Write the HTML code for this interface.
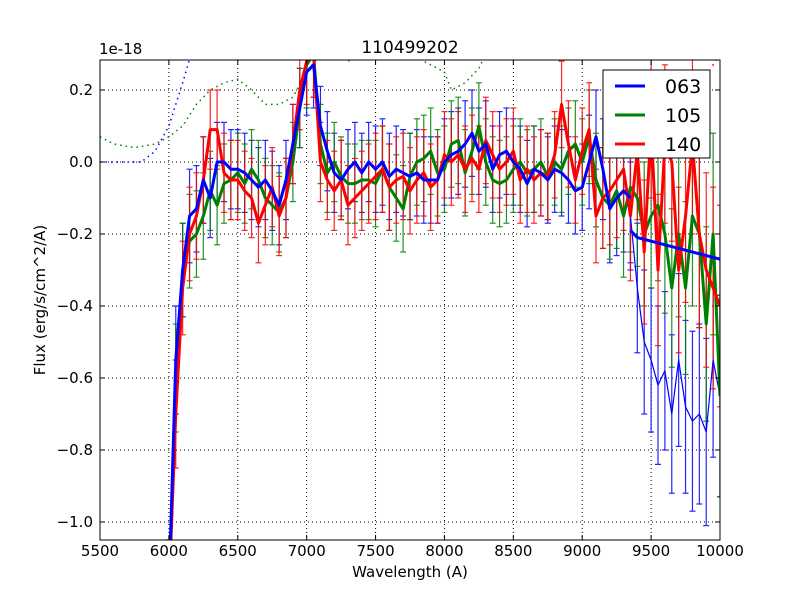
<!DOCTYPE html>
<html><head><meta charset="utf-8"><style>
html,body{margin:0;padding:0;background:#fff;overflow:hidden;width:800px;height:600px}
svg{display:block;overflow:hidden;position:absolute;left:0;top:0}
svg text{font-family:"DejaVu Sans","Liberation Sans",sans-serif}
</style></head><body>
<svg id="c" width="800" height="600" viewBox="0 0 800 600" xmlns="http://www.w3.org/2000/svg">
<rect width="800" height="600" fill="#fff"/>
<defs><clipPath id="clip"><rect x="100" y="60" width="620" height="480"/></clipPath></defs>
<g id="grid"></g>
<g id="plot" clip-path="url(#clip)"></g>
<rect x="100" y="60" width="620" height="480" fill="none" stroke="#000" stroke-width="1"/>
<g id="ticks"></g>
<text x="410" y="53" font-size="17" text-anchor="middle">110499202</text>
<text x="99" y="54" font-size="15">1e-18</text>
<text x="410" y="577" font-size="15" text-anchor="middle">Wavelength (A)</text>
<text x="45" y="300" font-size="15" text-anchor="middle" transform="rotate(-90 45 300)">Flux (erg/s/cm^2/A)</text>
<g>
<rect x="603" y="70" width="107" height="88" fill="#fff" stroke="#000"/>
<g><line x1="615" y1="86" x2="645" y2="86" stroke="#0000ff" stroke-width="3"/><text x="665" y="93" font-size="19">063</text></g>
<g><line x1="615" y1="115" x2="645" y2="115" stroke="#008000" stroke-width="3"/><text x="665" y="122" font-size="19">105</text></g>
<g><line x1="615" y1="144" x2="645" y2="144" stroke="#ff0000" stroke-width="3"/><text x="665" y="151" font-size="19">140</text></g>
</g>
</svg>
<script>
const wl=[6000,6050,6100,6150,6200,6250,6300,6350,6400,6450,6500,6550,6600,6650,6700,6750,6800,6850,6900,6950,7000,7050,7100,7150,7200,7250,7300,7350,7400,7450,7500,7550,7600,7650,7700,7750,7800,7850,7900,7950,8000,8050,8100,8150,8200,8250,8300,8350,8400,8450,8500,8550,8600,8650,8700,8750,8800,8850,8900,8950,9000,9050,9100,9150,9200,9250,9300,9350];
const s063=[-1.2,-0.55,-0.3,-0.15,-0.13,-0.05,-0.1,0.0,0.0,-0.02,-0.02,-0.03,-0.05,-0.07,-0.05,-0.08,-0.12,-0.05,0.05,0.15,0.25,0.27,0.1,0.03,-0.03,-0.05,-0.02,0.0,-0.03,0.0,-0.02,0.0,-0.04,-0.02,-0.03,-0.04,-0.03,-0.05,-0.05,-0.05,0.0,0.02,0.03,0.05,0.08,0.03,0.05,-0.02,0.02,0.03,0.0,-0.02,-0.06,-0.02,-0.03,-0.05,-0.02,-0.03,-0.05,-0.08,-0.07,0.0,0.07,-0.02,-0.13,-0.1,-0.08,-0.1];
const wlTail063=[9350,9400,9450,9500,9550,9600,9650,9700,9750,9800,9850,9900,9950,10000];
const tail063=[-0.15,-0.35,-0.5,-0.55,-0.62,-0.58,-0.7,-0.55,-0.68,-0.72,-0.7,-0.75,-0.55,-0.65];
const wlFit063=[9350,9400,9500,10000];
const fit063=[-0.19,-0.21,-0.22,-0.27];
const wlAll=wl.concat([9400,9450,9500,9550,9600,9650,9700,9750,9800,9850,9900,9950,10000]);
const s105=[-1.2,-0.6,-0.3,-0.22,-0.2,-0.15,-0.08,-0.12,-0.06,-0.05,-0.03,-0.06,-0.02,-0.05,-0.1,-0.12,-0.14,-0.1,0.0,0.15,0.27,0.3,0.05,-0.03,0.0,-0.04,-0.06,-0.06,-0.05,-0.05,-0.06,-0.02,-0.07,-0.1,-0.13,-0.04,0.0,0.01,0.03,-0.03,-0.02,0.05,0.06,-0.03,0.03,0.1,0.0,-0.05,-0.06,-0.05,-0.02,0.0,-0.03,-0.02,0.0,-0.04,0.0,-0.02,0.03,0.05,0.0,0.07,-0.05,-0.1,-0.12,-0.08,-0.15,-0.07,-0.1,-0.2,-0.15,-0.12,-0.2,-0.35,-0.2,-0.35,-0.15,-0.2,-0.45,-0.2,-0.65];
const s140=[-1.2,-0.7,-0.35,-0.2,-0.15,-0.05,0.09,0.09,-0.03,-0.05,-0.05,-0.08,-0.1,-0.17,-0.12,-0.07,-0.15,-0.1,0.05,0.2,0.28,0.3,0.0,-0.05,-0.08,-0.05,-0.12,-0.1,-0.08,-0.06,-0.04,-0.02,-0.07,-0.05,-0.04,-0.08,-0.05,-0.03,-0.07,-0.05,0.02,0.0,0.02,-0.02,0.01,-0.02,0.06,0.02,-0.02,0.0,0.03,-0.05,-0.02,-0.05,-0.03,-0.04,0.02,0.16,0.05,-0.05,0.03,0.09,-0.15,-0.1,-0.08,-0.05,-0.02,-0.15,0.03,-0.25,0.1,-0.3,0.05,0.0,-0.3,-0.15,0.05,-0.2,-0.3,-0.35,-0.4];
const err=[0.15,0.15,0.13,0.13,0.12,0.12,0.11,0.11,0.11,0.11,0.11,0.11,0.11,0.11,0.11,0.11,0.11,0.11,0.11,0.11,0.12,0.12,0.11,0.11,0.11,0.11,0.11,0.11,0.11,0.11,0.12,0.12,0.12,0.12,0.12,0.12,0.12,0.12,0.12,0.12,0.12,0.12,0.12,0.12,0.12,0.12,0.12,0.12,0.12,0.12,0.12,0.12,0.12,0.12,0.12,0.12,0.12,0.12,0.12,0.12,0.12,0.13,0.13,0.14,0.15,0.16,0.17,0.18,0.19,0.2,0.2,0.21,0.22,0.22,0.23,0.24,0.25,0.26,0.27,0.28,0.28];
const errTail=[0.15,0.18,0.2,0.2,0.22,0.22,0.22,0.24,0.24,0.25,0.25,0.26,0.27,0.28];
const wlDotB=[5500,5800,5900,6000,6100,6200];
const dotB=[0.0,0.0,0.03,0.1,0.22,0.35];
const wlDotG=[5500,5600,5750,5900,6000,6100,6200,6300,6400,6500,6600,6700,6800,6900,7000,7100,7200,7300,7400,7500,8000,8050,8150,8250,8300];
const dotG=[0.07,0.05,0.04,0.05,0.07,0.1,0.16,0.2,0.22,0.23,0.2,0.16,0.16,0.18,0.25,0.3,0.33,0.28,0.3,0.35,0.25,0.2,0.22,0.26,0.3];
const wlDotR=[9900,9950,10000];
const dotR=[0.33,0.27,0.3];
const xTicks=[5500,6000,6500,7000,7500,8000,8500,9000,9500,10000];
const yTicks=[-1.0,-0.8,-0.6,-0.4,-0.2,0.0,0.2];
const yLabels=["\u22121.0","\u22120.8","\u22120.6","\u22120.4","\u22120.2","0.0","0.2"];

const NS="http://www.w3.org/2000/svg";
const X=v=>100+(v-5500)*620/4500;
const Y=v=>Math.max(0,Math.min(598,162-v*360));
function mk(tag,attrs,parent){const e=document.createElementNS(NS,tag);for(const k in attrs)e.setAttribute(k,attrs[k]);parent.appendChild(e);return e;}
const grid=document.getElementById('grid'),plot=document.getElementById('plot'),ticks=document.getElementById('ticks');
xTicks.forEach((t,i)=>{
  const l=mk('line',{x1:X(t),x2:X(t),y1:60,y2:540,stroke:'#000','stroke-width':1,'stroke-dasharray':'1,3'},grid);
  
  
  mk('line',{x1:X(t),x2:X(t),y1:540,y2:535,stroke:'#000'},ticks);
  mk('line',{x1:X(t),x2:X(t),y1:60,y2:65,stroke:'#000'},ticks);
  const tx=mk('text',{x:X(t),y:556,'font-size':15,'text-anchor':'middle'},ticks);tx.textContent=t;
  
  
});
yTicks.forEach((t,i)=>{
  const l=mk('line',{x1:100,x2:720,y1:Y(t),y2:Y(t),stroke:'#000','stroke-width':1,'stroke-dasharray':'1,3'},grid);
  
  
  mk('line',{x1:100,x2:105,y1:Y(t),y2:Y(t),stroke:'#000'},ticks);
  mk('line',{x1:720,x2:715,y1:Y(t),y2:Y(t),stroke:'#000'},ticks);
  const tx=mk('text',{x:93,y:Y(t)+5,'font-size':15,'text-anchor':'end'},ticks);tx.textContent=yLabels[i];
  
  
});
function pts(xs,ys){return xs.map((x,i)=>X(x)+','+Y(ys[i])).join(' ');}
function dotted(xs,ys,c,name){
  const p=mk('polyline',{points:pts(xs,ys),fill:'none',stroke:c,'stroke-width':1.5,'stroke-dasharray':'1.5,4'},plot);
  
  
}
dotted(wlDotB,dotB,'#0000ff','dotted-063');
dotted(wlDotG,dotG,'#008000','dotted-105');
dotted(wlDotR,dotR,'#ff0000','dotted-140');
function errs(xs,ys,es,c,name){
  const g=mk('g',{stroke:c,'stroke-width':1.2,opacity:0.85},plot);
  
  
  xs.forEach((x,i)=>{const e=es[i],y=ys[i],px=X(x);
    mk('line',{x1:px,x2:px,y1:Y(y+e),y2:Y(y-e)},g);
    mk('line',{x1:px-3,x2:px+3,y1:Y(y+e),y2:Y(y+e)},g);
    mk('line',{x1:px-3,x2:px+3,y1:Y(y-e),y2:Y(y-e)},g);});
}
function line(xs,ys,c,w,name){
  const p=mk('polyline',{points:pts(xs,ys),fill:'none',stroke:c,'stroke-width':w,'stroke-linejoin':'round'},plot);
  
  
}
errs(wl,s063,err,'#0000ff','errorbars-063');
errs(wlTail063,tail063,errTail,'#0000ff','errorbars-063-tail');
errs(wlAll,s105,err,'#008000','errorbars-105');
errs(wlAll,s140,err,'#ff0000','errorbars-140');
line(wlTail063,tail063,'#0000ff',1.2,'series-063-tail');
line(wlAll,s105,'#008000',3,'series-105');
line(wlAll,s140,'#ff0000',3,'series-140');
line(wl,s063,'#0000ff',3,'series-063');
line(wlFit063,fit063,'#0000ff',3,'series-063-fit');
</script>
</body></html>
